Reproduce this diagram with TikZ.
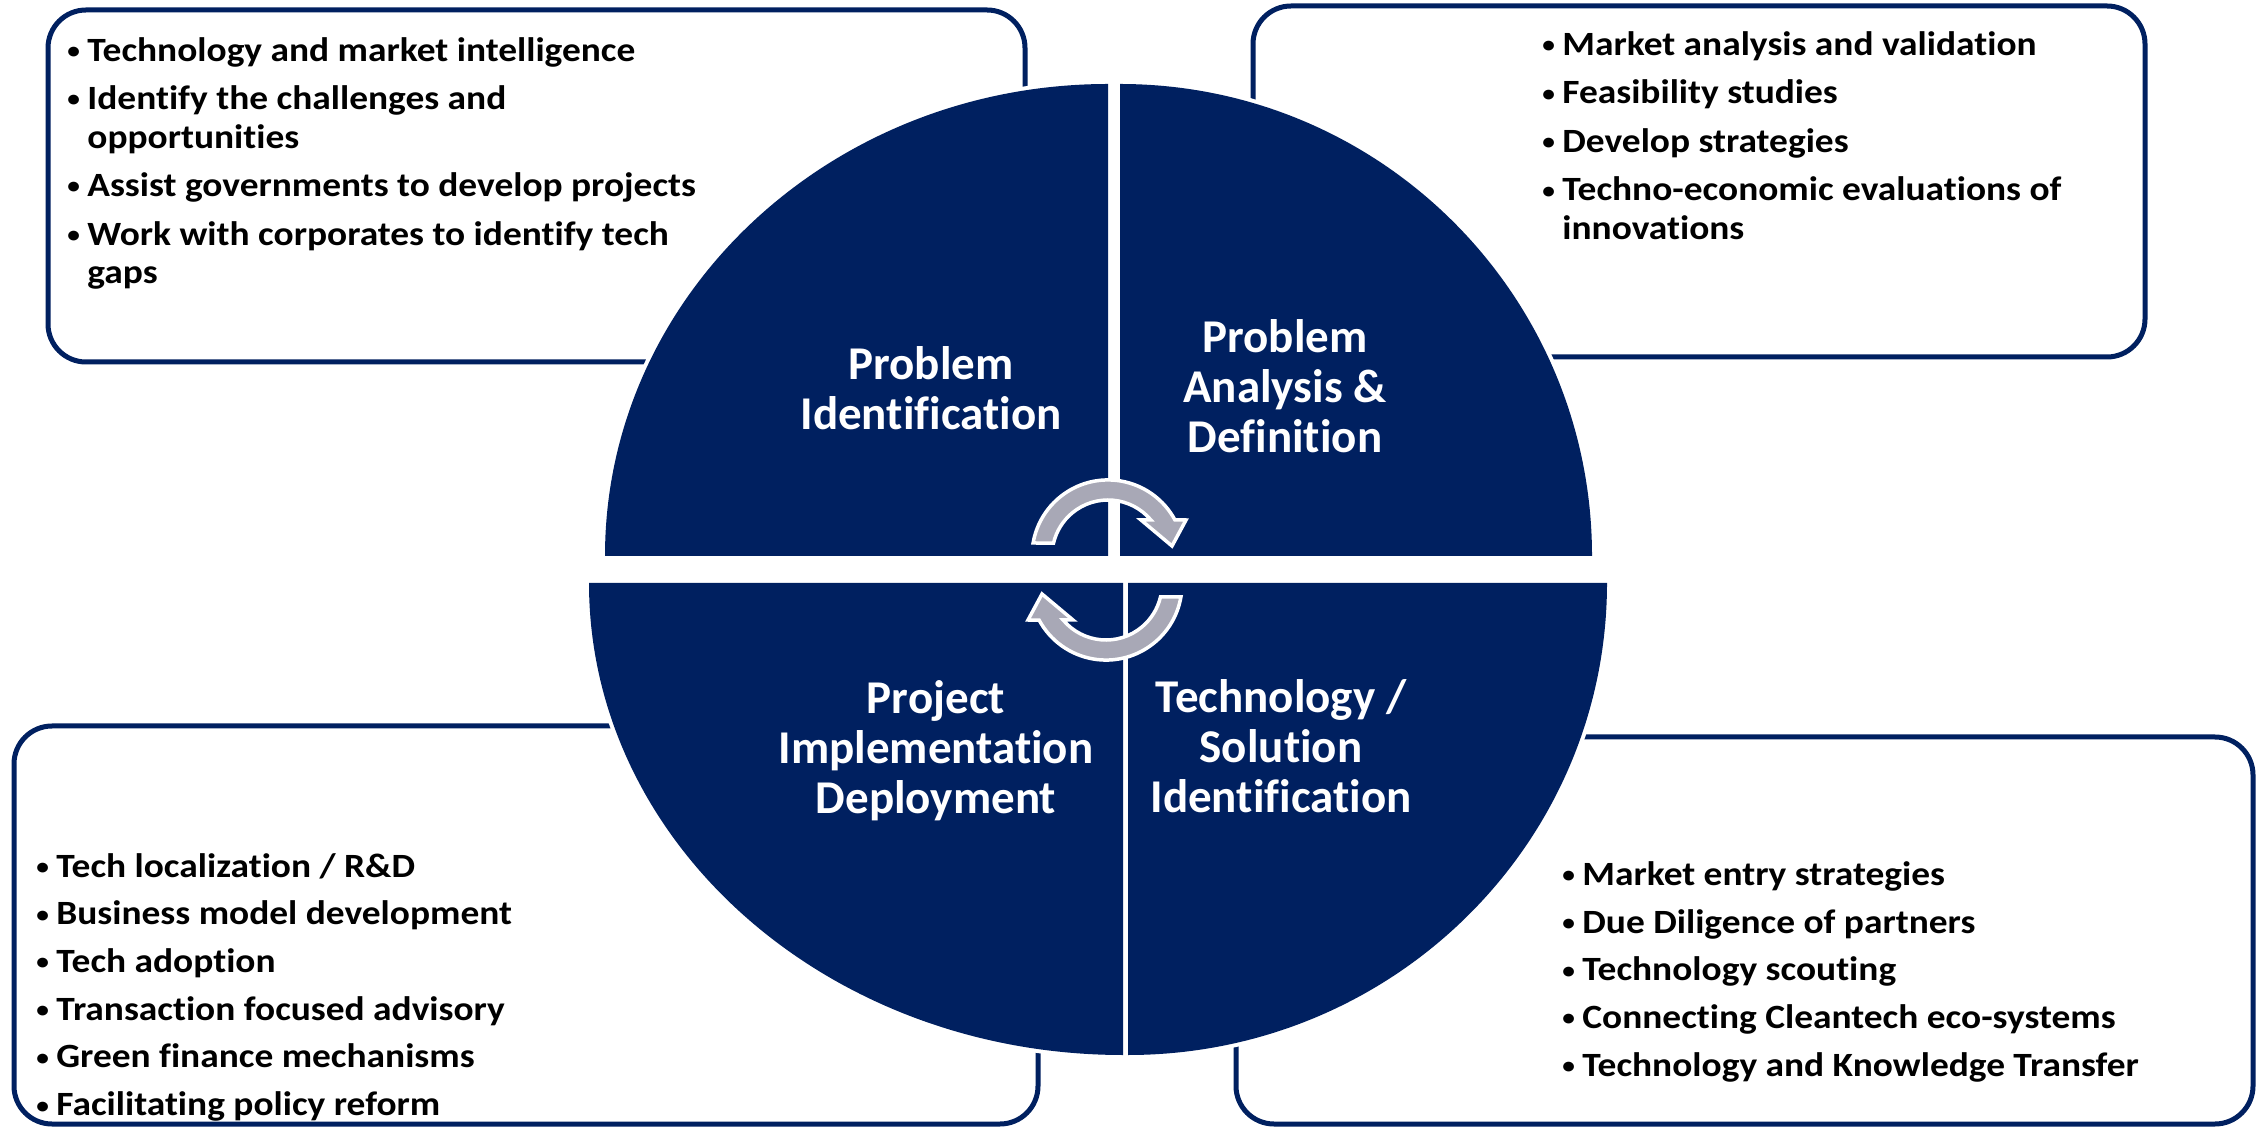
\documentclass[tikz,border=0pt]{standalone}
\usepackage{fontspec}
\setmainfont{Carlito}[Ligatures=NoCommon]
\newfontfamily\listfont{Carlito}[Ligatures=NoCommon, FakeStretch=1.1]
\definecolor{navy}{RGB}{0,32,96}
\definecolor{arrowgray}{RGB}{168,168,182}
\newcommand\bulitem{\makebox[10pt][l]{\raisebox{1.3pt}{\fontsize{11.5}{11.5}\selectfont\textbullet}}}
\newcommand\contline{\hspace*{10pt}}
\newcommand\firststrut{\rule{0pt}{14pt}}
\newcommand\labstrut{\rule{0pt}{20pt}}
\begin{document}
\begin{tikzpicture}[x=0.5pt,y=-0.5pt,
  infobox/.style={draw=navy, line width=2.5pt, fill=white, rounded corners=19pt},
  piece/.style={fill=navy, preaction={draw=white, line width=4pt, line join=round}},
  listtext/.style={anchor=north west, inner sep=0pt, align=left, text=black, font=\listfont\fontsize{17}{19.25}\selectfont\bfseries},
  seglabel/.style={anchor=north, inner sep=0pt, align=center, text=white, font=\fontsize{23.5}{25}\selectfont\bfseries},
  cyclearrow/.style={fill=arrowgray, draw=white, line width=1.75pt, line join=miter}]
\useasboundingbox (0,0) rectangle (2259,1127);
\fill[white] (0,0) rectangle (2259,1127);

% info boxes
\draw[infobox] (48,10) rectangle (1025,362);
\draw[infobox] (1253,6) rectangle (2145,357);
\draw[infobox] (14,726) rectangle (1038,1124);
\draw[infobox] (1236,737) rectangle (2253,1124);

% pie pieces
\fill[piece] (1108,556) -- (605,556) arc[start angle=180, end angle=90, x radius=251.5pt, y radius=236pt] -- cycle;
\fill[piece] (1120,556) -- (1120,84) arc[start angle=90, end angle=0, radius=236pt] -- cycle;
\fill[piece] (1128,583) -- (1607,583) arc[start angle=0, end angle=-90, x radius=239.5pt, y radius=236pt] -- cycle;
\fill[piece] (1123,583) -- (1123,1055) arc[start angle=270, end angle=180, x radius=267pt, y radius=236pt] -- cycle;

% segment labels
\node[seglabel] (labtl) at (931,339) {\labstrut Problem\\Identification};
\node[seglabel] (labtr) at (1285,312) {\labstrut Problem\\Analysis \&\\Definition};
\node[seglabel] (labbl) at (936,673) {\labstrut Project\\Implementation\\Deployment};
\node[seglabel] (labbr) at (1281,672) {\labstrut Technology /\\Solution\\Identification};

% cycle arrows
\draw[cyclearrow] (1033.1,543) arc[start angle=170.2, end angle=28.3, radius=38pt] -- (1186,520) -- (1172,546) -- (1141,520) -- (1150.9,520) arc[start angle=40, end angle=166.6, radius=28pt] -- cycle;
\begin{scope}[rotate around={180:(1107,570)}]
\draw[cyclearrow] (1033.1,543) arc[start angle=170.2, end angle=28.3, radius=38pt] -- (1186,520) -- (1172,546) -- (1141,520) -- (1150.9,520) arc[start angle=40, end angle=166.6, radius=28pt] -- cycle;
\end{scope}

% lists
\node[listtext] (listtl) at (67,32.7) {\firststrut\bulitem Technology and market intelligence\\[5pt]
\bulitem Identify the challenges and\\ \contline opportunities\\[5pt]
\bulitem Assist governments to develop projects\\[5pt]
\bulitem Work with corporates to identify tech\\ \contline gaps};
\node[listtext] (listtr) at (1542,27) {\firststrut\bulitem Market analysis and validation\\[5pt]
\bulitem Feasibility studies\\[5pt]
\bulitem Develop strategies\\[5pt]
\bulitem Techno-economic evaluations of\\ \contline innovations};
\node[listtext] (listbl) at (36,848.7) {\firststrut\bulitem Tech localization / R\&D\\[4.6pt]
\bulitem Business model development\\[4.6pt]
\bulitem Tech adoption\\[4.6pt]
\bulitem Transaction focused advisory\\[4.6pt]
\bulitem Green finance mechanisms\\[4.6pt]
\bulitem Facilitating policy reform};
\node[listtext] (listbr) at (1562,857) {\firststrut\bulitem Market entry strategies\\[4.6pt]
\bulitem Due Diligence of partners\\[4.6pt]
\bulitem Technology scouting\\[4.6pt]
\bulitem Connecting Cleantech eco-systems\\[4.6pt]
\bulitem Technology and Knowledge Transfer};
\end{tikzpicture}
\end{document}
